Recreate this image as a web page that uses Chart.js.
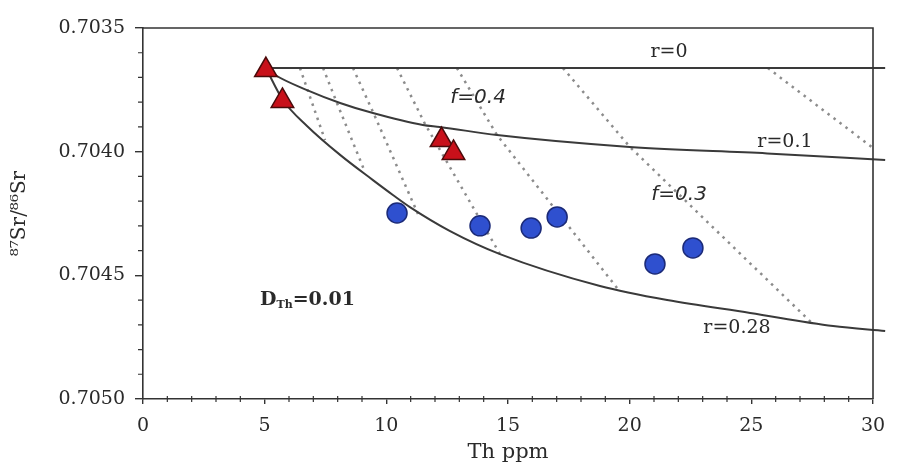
<!DOCTYPE html>
<html>
<head>
<meta charset="utf-8">
<script src="https://cdn.jsdelivr.net/npm/chart.js@4"></script>
<style>
  html, body { margin: 0; padding: 0; background: #fff; }
  #wrap { width: 898px; height: 474px; position: relative; }
</style>
</head>
<body>
<div id="wrap"><canvas id="afcChart"></canvas></div>
<script>
/* ---- Datos ---- */
const xTicks = [0, 5, 10, 15, 20, 25, 30];
const yTicks = [0.7035, 0.7040, 0.7045, 0.7050];

// muestras (triángulos rojos)
const triTh = [5.05, 5.73, 12.27, 12.76];
const triSr = [0.70367, 0.703795, 0.703953, 0.704005];

// muestras (círculos azules)
const dotTh = [10.44, 13.85, 15.95, 17.02, 21.04, 22.6];
const dotSr = [0.704248, 0.7043, 0.704309, 0.704264, 0.704454, 0.704389];

// curvas AFC
const r0Th = [5.05, 30.5];
const r0Sr = [0.703662, 0.703662];

const r01Th = [5.05, 5.43, 6.74, 8.1, 9.45, 11.5, 12.2, 14.55, 20.0, 25.65, 30.5];
const r01Sr = [0.703662, 0.70369, 0.703751, 0.703803, 0.703844, 0.703892, 0.7039, 0.703933, 0.703981, 0.704007, 0.704034];

const r028Th = [5.05, 5.75, 6.74, 8.10, 9.45, 10.27, 10.97, 12.62, 14.67, 18.78, 21.54, 24.95, 28.36, 30.5];
const r028Sr = [0.703662, 0.703791, 0.703896, 0.704013, 0.704115, 0.704175, 0.704224, 0.704321, 0.704414, 0.704543, 0.7046, 0.704652, 0.704705, 0.704725];

// líneas de f constante (punteadas)
const fValues = ['0.8', '0.7', '0.6', '0.5', '0.4', '0.3', '0.2'];
const fLineTh = [
  [6.45, 6.78, 7.48],
  [7.40, 7.97, 9.12],
  [8.63, 9.49, 11.30],
  [10.44, 11.59, 14.67],
  [12.90, 14.55, 19.48],
  [17.26, 20.01, 27.53],
  [25.68, 30.0],
];
const fLineSr = [
  [0.703662, 0.703755, 0.703953],
  [0.703662, 0.703803, 0.704082],
  [0.703662, 0.703848, 0.704252],
  [0.703662, 0.703888, 0.704414],
  [0.703662, 0.703933, 0.704551],
  [0.703662, 0.703981, 0.704697],
  [0.703662, 0.703985],
];

/* ---- Helpers ---- */
const SERIF = "'DejaVu Serif', 'Liberation Serif', serif";
const SANS  = "'DejaVu Sans', 'Liberation Sans', sans-serif";
const INK   = '#2a2a2a';

const pts = (xs, ys) => xs.map((x, i) => ({ x, y: ys[i] }));

function curve(label, xs, ys) {
  return {
    label, data: pts(xs, ys), showLine: true, pointRadius: 0,
    borderColor: '#3a3a3a', borderWidth: 2, cubicInterpolationMode: 'monotone',
    clip: { left: 0, top: 0, right: 14, bottom: 0 }, order: 5,
  };
}

/* ---- Anotaciones y marco ---- */
const notes = [
  { text: 'r=0',   x: 21.62, y: 0.703597, font: `19px ${SERIF}` },
  { text: 'r=0.1', x: 26.38, y: 0.703961, font: `19px ${SERIF}` },
  { text: 'r=0.28', x: 24.41, y: 0.704713, font: `19px ${SERIF}` },
  { text: 'f=0.4', x: 13.77, y: 0.703783, font: `italic 20px ${SANS}` },
  { text: 'f=0.3', x: 22.03, y: 0.704175, font: `italic 20px ${SANS}` },
];

const decor = {
  id: 'decor',
  afterDatasetsDraw(chart) {
    const { ctx, chartArea: a, scales: { x, y } } = chart;
    ctx.save();
    ctx.strokeStyle = '#333';
    ctx.lineWidth = 1.2;
    ctx.beginPath();
    for (let v = 1; v < 30; v++) {
      if (v % 5 === 0) continue;
      const px = x.getPixelForValue(v);
      ctx.moveTo(px, a.bottom - 3);
      ctx.lineTo(px, a.bottom + 3);
    }
    for (let i = 1; i < 15; i++) {
      if (i % 5 === 0) continue;
      const py = y.getPixelForValue(0.7035 + i * 0.0001);
      ctx.moveTo(a.left - 5, py);
      ctx.lineTo(a.left, py);
    }
    ctx.stroke();

    // marco superior y derecho
    ctx.lineWidth = 1.6;
    ctx.beginPath();
    ctx.moveTo(a.left, a.top);
    ctx.lineTo(a.right, a.top);
    ctx.lineTo(a.right, a.bottom);
    ctx.stroke();

    // etiquetas
    ctx.fillStyle = INK;
    ctx.textAlign = 'center';
    ctx.textBaseline = 'middle';
    notes.forEach(n => {
      ctx.font = n.font;
      ctx.fillText(n.text, x.getPixelForValue(n.x), y.getPixelForValue(n.y));
    });

    // D_Th = 0.01
    let px = x.getPixelForValue(4.81);
    const py = y.getPixelForValue(0.7046);
    ctx.textAlign = 'left';
    ctx.font = `bold 19px ${SERIF}`;
    ctx.fillText('D', px, py);
    px += ctx.measureText('D').width;
    ctx.font = `bold 11px ${SERIF}`;
    ctx.fillText('Th', px, py + 5);
    px += ctx.measureText('Th').width;
    ctx.font = `bold 19px ${SERIF}`;
    ctx.fillText('=0.01', px, py);
    ctx.restore();
  },
};

/* ---- Gráfica ---- */
const datasets = [
  {
    label: 'triangles', data: pts(triTh, triSr), pointStyle: 'triangle',
    pointRadius: 13, backgroundColor: '#c8101a', borderColor: '#4a0a0a',
    borderWidth: 1.5, order: 1,
  },
  {
    label: 'circles', data: pts(dotTh, dotSr), pointStyle: 'circle',
    pointRadius: 10, backgroundColor: '#2f50cf', borderColor: '#1b2a78',
    borderWidth: 1.5, order: 2,
  },
  curve('r=0', r0Th, r0Sr),
  curve('r=0.1', r01Th, r01Sr),
  curve('r=0.28', r028Th, r028Sr),
  ...fValues.map((f, i) => ({
    label: 'f=' + f, data: pts(fLineTh[i], fLineSr[i]), showLine: true,
    pointRadius: 0, borderColor: '#8c8c8c', borderWidth: 2.5,
    borderDash: [2.5, 5], tension: 0, order: 9,
  })),
];

new Chart(document.getElementById('afcChart'), {
  type: 'scatter',
  data: { datasets },
  options: {
    responsive: true,
    maintainAspectRatio: false,
    animation: false,
    layout: { padding: { left: 0, right: 25, top: 28, bottom: 0 } },
    plugins: { legend: { display: false }, tooltip: { enabled: false } },
    scales: {
      x: {
        type: 'linear', min: 0, max: 30,
        afterFit: s => { s.height = 75; },
        afterBuildTicks: s => { s.ticks = xTicks.map(v => ({ value: v })); },
        border: { display: true, color: '#333', width: 1.6 },
        grid: { drawOnChartArea: false, drawTicks: true, tickLength: 5, color: '#333', lineWidth: 1.4 },
        ticks: { color: INK, font: { family: SERIF, size: 19 }, padding: 11, maxRotation: 0 },
        title: { display: true, text: 'Th ppm', color: INK, font: { family: SERIF, size: 21 }, padding: { top: 0, bottom: 9 } },
      },
      y: {
        type: 'linear', min: 0.7035, max: 0.7050, reverse: true,
        afterFit: s => { s.width = 143; },
        afterBuildTicks: s => { s.ticks = yTicks.map(v => ({ value: v })); },
        border: { display: true, color: '#333', width: 1.6 },
        grid: { drawOnChartArea: false, drawTicks: true, tickLength: 8, color: '#333', lineWidth: 1.4 },
        ticks: { color: INK, font: { family: SERIF, size: 19 }, padding: 10, callback: v => v.toFixed(4) },
        title: { display: true, text: '⁸⁷Sr/⁸⁶Sr', color: INK, font: { family: SERIF, size: 20 }, padding: { top: 8, bottom: 0 } },
      },
    },
  },
  plugins: [decor],
});
</script>
</body>
</html>
